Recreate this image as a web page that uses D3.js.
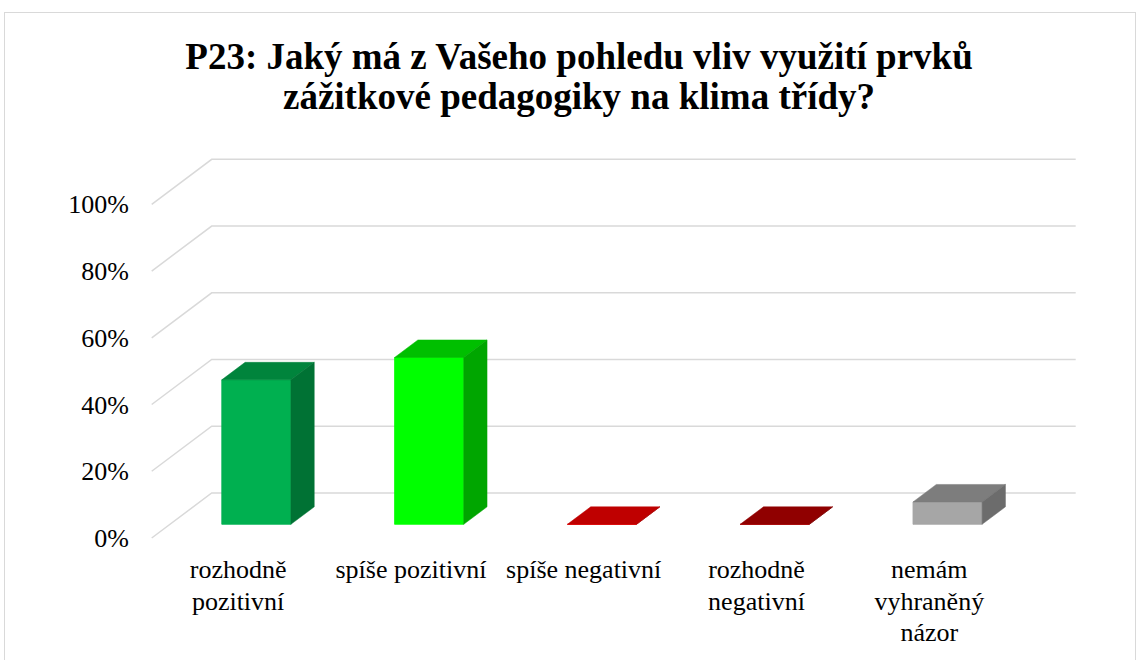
<!DOCTYPE html>
<html lang="cs">
<head>
  <meta charset="UTF-8">
  <title>P23 klima třídy</title>
  <script src="https://d3js.org/d3.v7.min.js"></script>
  <style>
    body {
      margin: 0;
      background: #ffffff;
    }
    .grid {
      fill: none;
      stroke: #d9d9d9;
      stroke-width: 1.5;
    }
  </style>
</head>
<body>
  <svg id="chart"></svg>

  <script>
    // data (share of answers)
    const categories = ["rozhodně pozitivní", "spíše pozitivní", "spíše negativní", "rozhodně negativní", "nemám vyhraněný názor"];
    const shares = [0.433, 0.5, 0, 0, 0.067];
    const barColors = ["#00b050", "#00ff00", "#ff0000", "#c00000", "#a6a6a6"];
    const yTicks = [0, 0.2, 0.4, 0.6, 0.8, 1];
    const titleLines = ["P23: Jaký má z Vašeho pohledu vliv využití prvků", "zážitkové pedagogiky na klima třídy?"];

    const width = 1137;
    const height = 660;
    const serif = "Liberation Serif";

    const svg = d3.select("#chart")
      .attr("width", width)
      .attr("height", height)
      .attr("font-family", serif);

    // chart frame
    svg.append("rect")
      .attr("x", 4.5)
      .attr("y", 12.5)
      .attr("width", 1131)
      .attr("height", 700)
      .attr("fill", "#ffffff")
      .attr("stroke", "#d9d9d9");

    // back wall and depth of the 3d box
    const wallLeft = 211.7, wallRight = 1075.7;
    const depthX = -60, depthY = 45;
    const zFront = 0.696, zBack = 0.307;
    const proj = (x, y, z) => [x + depthX * z, y + depthY * z];

    const x = d3.scaleBand()
      .domain(categories)
      .range([wallLeft, wallRight])
      .paddingInner(0.6)
      .paddingOuter(0.3);

    const y = d3.scaleLinear()
      .domain([0, 1])
      .range([493, 159.3]);

    // gridlines on the side wall and back wall
    svg.append("g")
      .selectAll("path")
      .data(yTicks)
      .join("path")
      .attr("class", "grid")
      .attr("d", t => d3.line()([proj(wallLeft, y(t), 1), [wallLeft, y(t)], [wallRight, y(t)]]));

    // y labels
    svg.append("g")
      .selectAll("text")
      .data(yTicks)
      .join("text")
      .attr("x", 129)
      .attr("y", t => proj(wallLeft, y(t), 1)[1])
      .attr("dy", "0.35em")
      .attr("text-anchor", "end")
      .attr("font-family", serif)
      .attr("font-size", "26px")
      .attr("fill", "#000")
      .text(d3.format(".0%"));

    const shade = (c, k) => {
      const rgb = d3.rgb(c);
      return d3.rgb(rgb.r * k, rgb.g * k, rgb.b * k).formatHex();
    };

    const bars = categories.map((c, i) => ({ name: c, value: shares[i], color: barColors[i] }));

    const gBars = svg.append("g");
    bars.forEach(d => {
      const x0 = x(d.name), x1 = x0 + x.bandwidth();
      const yT = y(d.value), yB = y(0);
      const g = gBars.append("g");
      const poly = pts => "M" + pts.map(p => p.join(",")).join("L") + "Z";

      g.append("path")
        .attr("d", poly([proj(x0, yT, zFront), proj(x1, yT, zFront), proj(x1, yB, zFront), proj(x0, yB, zFront)]))
        .attr("fill", d.color)
        .attr("stroke", d.color)
        .attr("stroke-width", 0.8);

      g.append("path")
        .attr("d", poly([proj(x0, yT, zFront), proj(x1, yT, zFront), proj(x1, yT, zBack), proj(x0, yT, zBack)]))
        .attr("fill", shade(d.color, 0.75))
        .attr("stroke", shade(d.color, 0.75))
        .attr("stroke-width", 0.5);

      g.append("path")
        .attr("d", poly([proj(x1, yT, zFront), proj(x1, yT, zBack), proj(x1, yB, zBack), proj(x1, yB, zFront)]))
        .attr("fill", shade(d.color, 0.65))
        .attr("stroke", shade(d.color, 0.65))
        .attr("stroke-width", 0.5);
    });

    // category labels along the front edge of the floor
    const labels = svg.append("g")
      .selectAll("text")
      .data(categories)
      .join("text")
      .attr("x", c => proj(x(c) + x.bandwidth() / 2, 0, 1)[0])
      .attr("y", 578)
      .attr("text-anchor", "middle")
      .attr("font-family", serif)
      .attr("font-size", "26px")
      .attr("fill", "#000")
      .text(c => c);

    labels.each(function(c) {
      const text = d3.select(this);
      const cx = text.attr("x");
      const words = c.split(" ");
      const maxW = x.step();
      text.text(null);
      let line = [];
      let tspan = text.append("tspan").attr("x", cx).attr("dy", 0);
      words.forEach(w => {
        line.push(w);
        tspan.text(line.join(" "));
        if (tspan.node().getComputedTextLength() > maxW && line.length > 1) {
          line.pop();
          tspan.text(line.join(" "));
          line = [w];
          tspan = text.append("tspan").attr("x", cx).attr("dy", 31.5).text(w);
        }
      });
    });

    // title
    svg.append("text")
      .attr("x", 579)
      .attr("y", 69)
      .attr("text-anchor", "middle")
      .attr("font-family", serif)
      .attr("font-size", "37px")
      .attr("font-weight", "bold")
      .attr("fill", "#000")
      .selectAll("tspan")
      .data(titleLines)
      .join("tspan")
      .attr("x", 579)
      .attr("dy", (d, i) => i === 0 ? 0 : 40)
      .text(d => d);
  </script>
</body>
</html>
